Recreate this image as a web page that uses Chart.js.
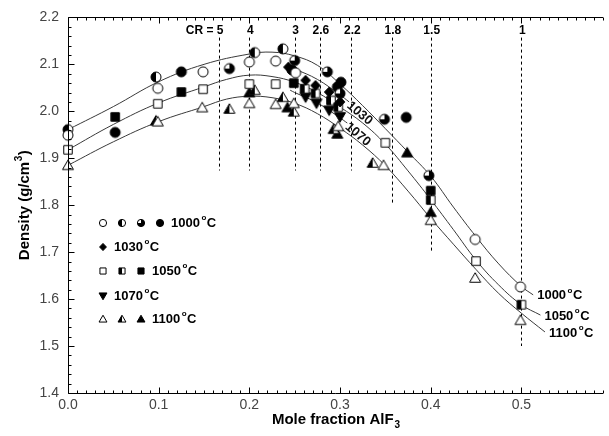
<!DOCTYPE html>
<html><head><meta charset="utf-8">
<script src="https://cdn.jsdelivr.net/npm/chart.js@4.4.0/dist/chart.umd.min.js"></script>
<style>html,body{margin:0;padding:0;background:#fff}#wrap{width:609px;height:436px;position:relative}</style>
</head><body><div id="wrap"><canvas id="c" width="609" height="436"></canvas></div>
<script>
// ---------- data ----------
const xTickLabels = ['0.0','0.1','0.2','0.3','0.4','0.5'];
const yTickLabels = ['1.4','1.5','1.6','1.7','1.8','1.9','2.0','2.1','2.2'];

// 1000 C
const open1000X = [0, 0.099, 0.149, 0.200, 0.229, 0.251, 0.449, 0.499];
const open1000Y = [1.949, 2.049, 2.084, 2.105, 2.107, 2.082, 1.727, 1.626];
const half1000X = [0, 0.097, 0.206, 0.237];
const half1000Y = [1.961, 2.073, 2.125, 2.133];
const q1000X = [0.178, 0.250, 0.286, 0.300, 0.349, 0.398];
const q1000Y = [2.091, 2.108, 2.084, 2.038, 1.983, 1.863];
const fill1000X = [0.052, 0.125, 0.247, 0.297, 0.301, 0.373];
const fill1000Y = [1.955, 2.084, 2.088, 2.052, 2.062, 1.987];
// 1030 C
const dia1030X = [0.243, 0.262, 0.273, 0.288, 0.300];
const dia1030Y = [2.094, 2.066, 2.055, 2.041, 2.020];
// 1050 C
const open1050X = [0, 0.099, 0.149, 0.200, 0.229, 0.350, 0.450];
const open1050Y = [1.918, 2.016, 2.047, 2.058, 2.058, 1.933, 1.681];
const half1050X = [0.261, 0.273, 0.290, 0.298, 0.400, 0.500];
const half1050Y = [2.048, 2.038, 2.023, 2.009, 1.811, 1.588];
const fill1050X = [0.052, 0.125, 0.249, 0.400];
const fill1050Y = [1.988, 2.041, 2.060, 1.831];
// 1070 C
const down1070X = [0.262, 0.274, 0.288, 0.300];
const down1070Y = [2.030, 2.017, 2.002, 1.988];
// 1100 C
const open1100X = [0, 0.099, 0.148, 0.200, 0.229, 0.249, 0.298, 0.348, 0.400, 0.449, 0.499];
const open1100Y = [1.885, 1.978, 2.008, 2.017, 2.015, 2.017, 1.968, 1.885, 1.768, 1.645, 1.555];
const half1100X = [0.097, 0.178, 0.206, 0.237, 0.249, 0.293, 0.336];
const half1100Y = [1.980, 2.005, 2.045, 2.030, 1.999, 1.962, 1.890];
const fill1100X = [0.200, 0.242, 0.297, 0.374, 0.400];
const fill1100Y = [2.040, 2.008, 1.952, 1.912, 1.785];

// fitted curves
const curve1000X = [0, 0.05, 0.1, 0.15, 0.2, 0.225, 0.25, 0.275, 0.3, 0.325, 0.35, 0.375, 0.4, 0.425, 0.45, 0.475, 0.5, 0.513];
const curve1000Y = [1.961, 2.010, 2.063, 2.100, 2.122, 2.126, 2.118, 2.098, 2.058, 2.012, 1.963, 1.913, 1.862, 1.796, 1.733, 1.675, 1.627, 1.609];
const curve1050X = [0, 0.05, 0.1, 0.15, 0.175, 0.2, 0.225, 0.25, 0.275, 0.3, 0.325, 0.35, 0.375, 0.4, 0.425, 0.45, 0.475, 0.5, 0.521];
const curve1050Y = [1.918, 1.972, 2.018, 2.052, 2.068, 2.077, 2.074, 2.062, 2.040, 2.009, 1.975, 1.930, 1.873, 1.812, 1.748, 1.683, 1.630, 1.588, 1.566];
const curve1100X = [0, 0.05, 0.1, 0.15, 0.175, 0.2, 0.225, 0.25, 0.275, 0.3, 0.325, 0.35, 0.375, 0.4, 0.425, 0.45, 0.475, 0.5, 0.526];
const curve1100Y = [1.885, 1.935, 1.978, 2.010, 2.026, 2.032, 2.029, 2.017, 1.995, 1.964, 1.928, 1.884, 1.830, 1.772, 1.717, 1.663, 1.612, 1.570, 1.530];
const curve1030X = [0.240, 0.250, 0.275, 0.300, 0.310];
const curve1030Y = [2.097, 2.090, 2.068, 2.035, 2.020];
const curve1070X = [0.245, 0.250, 0.275, 0.300, 0.308];
const curve1070Y = [2.045, 2.040, 2.018, 1.986, 1.975];

// cryolite-ratio guide lines
const crLabels = ['CR = 5', '4', '3', '2.6', '2.2', '1.8', '1.5', '1'];
const crX = [0.1667, 0.2, 0.25, 0.2778, 0.3125, 0.3571, 0.4, 0.5];
const crBottom = [1.874, 1.874, 1.874, 1.874, 1.874, 1.80, 1.70, 1.50];
const crTop = 2.157;

const endLabels = ['1000', '1050', '1100'];
const innerLabels = ['1030', '1070'];
const legendRows = [
  {kinds: ['circle_open', 'circle_half', 'circle_q3', 'circle_fill'], text: '1000'},
  {kinds: ['diamond_fill'], text: '1030'},
  {kinds: ['square_open', 'square_half', 'square_fill'], text: '1050'},
  {kinds: ['down_fill'], text: '1070'},
  {kinds: ['tri_open', 'tri_half', 'tri_fill'], text: '1100'}
];

// ---------- markers ----------
function shapePath(ctx, shape, s) {
  ctx.beginPath();
  if (shape === 'circle') ctx.arc(0, 0, s, 0, Math.PI * 2);
  else if (shape === 'square') ctx.rect(-s * 0.85, -s * 0.85, s * 1.7, s * 1.7);
  else if (shape === 'tri') { ctx.moveTo(0, -s * 1.05); ctx.lineTo(s * 1.1, s * 0.85); ctx.lineTo(-s * 1.1, s * 0.85); ctx.closePath(); }
  else if (shape === 'down') { ctx.moveTo(0, s * 1.05); ctx.lineTo(s * 1.1, -s * 0.85); ctx.lineTo(-s * 1.1, -s * 0.85); ctx.closePath(); }
  else if (shape === 'diamond') { ctx.moveTo(0, -s); ctx.lineTo(s * 0.95, 0); ctx.lineTo(0, s); ctx.lineTo(-s * 0.95, 0); ctx.closePath(); }
}
function drawMarker(ctx, kind, x, y, s) {
  const [shape, fill] = kind.split('_');
  ctx.save();
  ctx.translate(x, y);
  ctx.lineWidth = 1; ctx.strokeStyle = '#000';
  shapePath(ctx, shape, s);
  ctx.fillStyle = fill === 'fill' ? '#000' : '#fff';
  ctx.fill();
  if (fill === 'half' || fill === 'q3') {
    ctx.save();
    shapePath(ctx, shape, s); ctx.clip();
    ctx.fillStyle = '#000';
    if (fill === 'half') ctx.fillRect(-s - 3, -s - 3, s + 3, 2 * s + 6);
    else { ctx.fillRect(-s - 3, -s - 3, 2 * s + 6, 2 * s + 6); ctx.fillStyle = '#fff'; ctx.fillRect(-s - 3, -s - 3, s + 3, s + 3); }
    ctx.restore();
  }
  shapePath(ctx, shape, s);
  ctx.stroke();
  ctx.restore();
}
function makeMarker(kind, s) {
  const c = document.createElement('canvas');
  const n = Math.ceil(2.3 * s + 4);
  c.width = n; c.height = n;
  drawMarker(c.getContext('2d'), kind, n / 2, n / 2, s);
  return c;
}

function pts(xs, ys) { return xs.map((x, i) => ({x: x, y: ys[i]})); }
function pointSet(label, xs, ys, kind) {
  return {label: label, data: pts(xs, ys), showLine: false, pointStyle: makeMarker(kind, 5), pointRadius: 5, order: 0, clip: false};
}
function curveSet(label, xs, ys) {
  return {label: label, data: pts(xs, ys), showLine: true, pointRadius: 0, borderColor: '#3a3a3a', borderWidth: 1, tension: 0.4, order: 5, clip: false, fill: false};
}

const datasets = [
  curveSet('fit 1000', curve1000X, curve1000Y),
  curveSet('fit 1030', curve1030X, curve1030Y),
  curveSet('fit 1050', curve1050X, curve1050Y),
  curveSet('fit 1070', curve1070X, curve1070Y),
  curveSet('fit 1100', curve1100X, curve1100Y),
  pointSet('1000 open', open1000X, open1000Y, 'circle_open'),
  pointSet('1000 half', half1000X, half1000Y, 'circle_half'),
  pointSet('1000 q', q1000X, q1000Y, 'circle_q3'),
  pointSet('1000 filled', fill1000X, fill1000Y, 'circle_fill'),
  pointSet('1030', dia1030X, dia1030Y, 'diamond_fill'),
  pointSet('1050 open', open1050X, open1050Y, 'square_open'),
  pointSet('1050 half', half1050X, half1050Y, 'square_half'),
  pointSet('1050 filled', fill1050X, fill1050Y, 'square_fill'),
  pointSet('1070', down1070X, down1070Y, 'down_fill'),
  pointSet('1100 open', open1100X, open1100Y, 'tri_open'),
  pointSet('1100 half', half1100X, half1100Y, 'tri_half'),
  pointSet('1100 filled', fill1100X, fill1100Y, 'tri_fill')
];

const FONT = '"Liberation Sans", Arial, sans-serif';

function drawTemp(ctx, num, x, y, size, align) {
  ctx.save();
  ctx.textBaseline = 'middle'; ctx.textAlign = 'left'; ctx.fillStyle = '#000';
  ctx.font = 'bold ' + size + 'px ' + FONT;
  const w1 = ctx.measureText(num).width;
  ctx.font = 'bold ' + Math.round(size * 0.6) + 'px ' + FONT;
  const w2 = ctx.measureText('o').width;
  ctx.font = 'bold ' + size + 'px ' + FONT;
  const w3 = ctx.measureText('C').width;
  let x0 = x;
  if (align === 'center') x0 = x - (w1 + w2 + 2 + w3) / 2;
  ctx.fillText(num, x0, y);
  ctx.font = 'bold ' + Math.round(size * 0.6) + 'px ' + FONT;
  ctx.fillText('o', x0 + w1 + 1.5, y - size * 0.42);
  ctx.font = 'bold ' + size + 'px ' + FONT;
  ctx.fillText('C', x0 + w1 + w2 + 2, y);
  ctx.restore();
}

const decor = {
  id: 'decor',
  beforeDatasetsDraw(chart) {
    const ctx = chart.ctx, xs = chart.scales.x, ys = chart.scales.y;
    ctx.save();
    ctx.strokeStyle = '#000'; ctx.lineWidth = 1; ctx.setLineDash([3, 3]);
    crX.forEach((v, i) => {
      const px = Math.round(xs.getPixelForValue(v)) + 0.5;
      ctx.beginPath();
      ctx.moveTo(px, ys.getPixelForValue(crTop));
      ctx.lineTo(px, ys.getPixelForValue(crBottom[i]));
      ctx.stroke();
    });
    ctx.setLineDash([]);
    ctx.fillStyle = '#000'; ctx.font = 'bold 12px ' + FONT; ctx.textBaseline = 'middle';
    const ly = ys.getPixelForValue(crTop) - 7;
    crLabels.forEach((t, i) => {
      const px = xs.getPixelForValue(crX[i]);
      const last = t.split(' ').pop();
      if (t !== last) {
        const wl = ctx.measureText(last).width;
        ctx.textAlign = 'right';
        ctx.fillText(t, px + wl / 2 + 1, ly);
      } else {
        ctx.textAlign = 'center';
        ctx.fillText(t, px + 1, ly);
      }
    });
    ctx.restore();
  },
  afterDraw(chart) {
    const ctx = chart.ctx, xs = chart.scales.x, ys = chart.scales.y, a = chart.chartArea;
    ctx.save();
    ctx.strokeStyle = '#000'; ctx.lineWidth = 1;
    const L = Math.round(a.left) + 0.5, B = Math.round(a.bottom) + 0.5, T = Math.round(a.top) + 0.5, R = a.right;
    ctx.beginPath();
    ctx.moveTo(L, T); ctx.lineTo(L, B); ctx.lineTo(R, B);
    ctx.moveTo(L, T); ctx.lineTo(R, T);
    ctx.stroke();
    ctx.beginPath();
    for (let k = 0; k <= 59; k++) {
      const v = k / 100;
      const px = Math.round(xs.getPixelForValue(v)) + 0.5;
      const len = (k % 10 === 0) ? 6 : 3;
      ctx.moveTo(px, B); ctx.lineTo(px, B - len);
      ctx.moveTo(px, T); ctx.lineTo(px, T + len);
    }
    for (let k = 0; k <= 40; k++) {
      const v = 1.4 + k * 0.02;
      const py = Math.round(ys.getPixelForValue(v)) + 0.5;
      const len = (k % 5 === 0) ? 6 : 3;
      ctx.moveTo(L, py); ctx.lineTo(L + len, py);
    }
    ctx.stroke();

    const ends = [[curve1000X, curve1000Y], [curve1050X, curve1050Y], [curve1100X, curve1100Y]];
    ends.forEach((c, i) => {
      const n = c[0].length - 1;
      const px = xs.getPixelForValue(c[0][n]), py = ys.getPixelForValue(c[1][n]);
      drawTemp(ctx, endLabels[i], px + 4, py + 1, 13, 'left');
    });
    const inner = [[curve1030X, curve1030Y], [curve1070X, curve1070Y]];
    inner.forEach((c, i) => {
      const n = c[0].length - 1;
      const px = xs.getPixelForValue(c[0][n]), py = ys.getPixelForValue(c[1][n]);
      ctx.save();
      ctx.translate(px, py);
      ctx.rotate(40 * Math.PI / 180);
      ctx.font = 'bold 13px ' + FONT; ctx.fillStyle = '#111';
      ctx.textAlign = 'left'; ctx.textBaseline = 'middle';
      ctx.fillText(innerLabels[i], 1, 2);
      ctx.restore();
    });

    const rowsY = [223, 247, 271, 296, 319];
    const colX = [103, 122, 141, 160];
    legendRows.forEach((r, i) => {
      r.kinds.forEach((k, j) => drawMarker(ctx, k, colX[j], rowsY[i], 3.6));
      const tx = colX[r.kinds.length - 1] + 11;
      drawTemp(ctx, r.text, tx, rowsY[i], 13, 'left');
    });

    ctx.fillStyle = '#000';
    ctx.textBaseline = 'alphabetic';
    ctx.font = 'bold 15px ' + FONT;
    const t1 = 'Mole fraction AlF';
    const w1 = ctx.measureText(t1).width;
    ctx.font = 'bold 10px ' + FONT;
    const ws = ctx.measureText('3').width;
    const cx = (a.left + a.right) / 2;
    const bx = cx - (w1 + ws) / 2;
    ctx.font = 'bold 15px ' + FONT; ctx.textAlign = 'left';
    ctx.fillText(t1, bx, 424);
    ctx.font = 'bold 10px ' + FONT;
    ctx.fillText('3', bx + w1 + 1, 428);

    ctx.save();
    ctx.translate(29, (a.top + a.bottom) / 2);
    ctx.rotate(-Math.PI / 2);
    ctx.font = 'bold 15px ' + FONT;
    const y1 = 'Density (g/cm', y2 = ')';
    const wy1 = ctx.measureText(y1).width, wy2 = ctx.measureText(y2).width;
    ctx.font = 'bold 10px ' + FONT;
    const wy3 = ctx.measureText('3').width;
    const sx = -(wy1 + wy3 + wy2 + 1) / 2;
    ctx.font = 'bold 15px ' + FONT;
    ctx.fillText(y1, sx, 0);
    ctx.font = 'bold 10px ' + FONT;
    ctx.fillText('3', sx + wy1 + 0.5, -7);
    ctx.font = 'bold 15px ' + FONT;
    ctx.fillText(y2, sx + wy1 + wy3 + 1, 0);
    ctx.restore();
    ctx.restore();
  }
};

new Chart(document.getElementById('c'), {
  type: 'scatter',
  data: {datasets: datasets},
  options: {
    responsive: false, animation: false, events: [],
    layout: {padding: {top: 17, right: 0, left: 0, bottom: 0}},
    plugins: {legend: {display: false}, tooltip: {enabled: false}, title: {display: false}},
    scales: {
      x: {
        type: 'linear', min: 0, max: 0.59,
        grid: {display: false, drawTicks: false}, border: {display: false},
        ticks: {stepSize: 0.1, includeBounds: false, padding: 4, color: '#444',
          font: {size: 14, family: FONT},
          callback: (v) => { const i = Math.round(v * 10); return (Math.abs(v * 10 - i) < 1e-6 && xTickLabels[i]) ? xTickLabels[i] : ''; }},
        afterFit: (s) => { s.height = 43; }
      },
      y: {
        type: 'linear', min: 1.4, max: 2.2,
        grid: {display: false, drawTicks: false}, border: {display: false},
        ticks: {stepSize: 0.1, includeBounds: false, padding: 9, color: '#444',
          font: {size: 14, family: FONT},
          callback: (v) => { const i = Math.round((v - 1.4) * 10); return (Math.abs((v - 1.4) * 10 - i) < 1e-6 && yTickLabels[i]) ? yTickLabels[i] : ''; }},
        afterFit: (s) => { s.width = 68; }
      }
    }
  },
  plugins: [decor]
});
</script>
</body></html>
